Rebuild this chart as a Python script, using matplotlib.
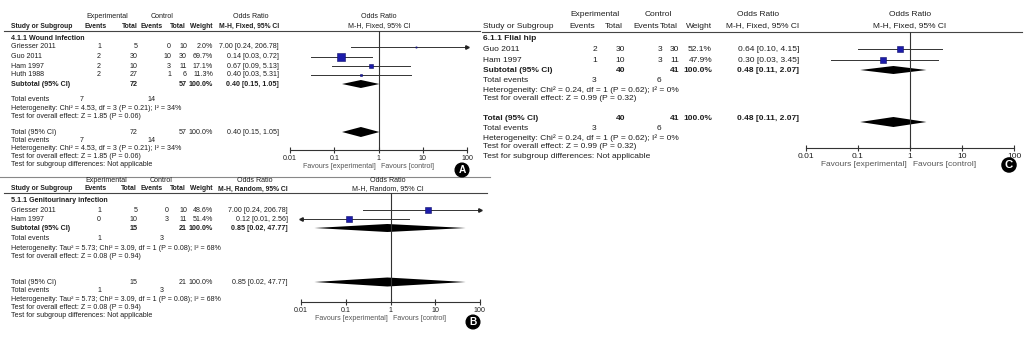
import numpy as np
import matplotlib
matplotlib.use("Agg")
import matplotlib.pyplot as plt

plt.rcParams['font.family'] = ['Liberation Sans', 'DejaVu Sans']

W, H = 1026, 339
TXT = '#1e1e1e'
GREY = '#555555'
BLUE = '#1c1caa'

# ---- A: wound infection (M-H, fixed)
a_studies = ["Griesser 2011", "Guo 2011", "Ham 1997", "Huth 1988"]
a_ev_e = [1, 2, 2, 2]
a_tot_e = [5, 30, 10, 27]
a_ev_c = [0, 10, 3, 1]
a_tot_c = [10, 30, 11, 6]
a_weight = [2.0, 69.7, 17.1, 11.3]
a_or = [7.00, 0.14, 0.67, 0.40]
a_lo = [0.24, 0.03, 0.09, 0.03]
a_hi = [206.78, 0.72, 5.13, 5.31]
a_pooled = [0.40, 0.15, 1.05]
a_totals = [72, 57]
a_events = [7, 14]
a_het = ["Heterogeneity: Chi\u00b2 = 4.53, df = 3 (P = 0.21); I\u00b2 = 34%",
         "Test for overall effect: Z = 1.85 (P = 0.06)"]

# ---- B: genitourinary infection (M-H, random)
b_studies = ["Griesser 2011", "Ham 1997"]
b_ev_e = [1, 0]
b_tot_e = [5, 10]
b_ev_c = [0, 3]
b_tot_c = [10, 11]
b_weight = [48.6, 51.4]
b_or = [7.00, 0.12]
b_lo = [0.24, 0.01]
b_hi = [206.78, 2.56]
b_pooled = [0.85, 0.02, 47.77]
b_totals = [15, 21]
b_events = [1, 3]
b_het = ["Heterogeneity: Tau\u00b2 = 5.73; Chi\u00b2 = 3.09, df = 1 (P = 0.08); I\u00b2 = 68%",
         "Test for overall effect: Z = 0.08 (P = 0.94)"]

# ---- C: flial hip (M-H, fixed)
c_studies = ["Guo 2011", "Ham 1997"]
c_ev_e = [2, 1]
c_tot_e = [30, 10]
c_ev_c = [3, 3]
c_tot_c = [30, 11]
c_weight = [52.1, 47.9]
c_or = [0.64, 0.30]
c_lo = [0.10, 0.03]
c_hi = [4.15, 3.45]
c_pooled = [0.48, 0.11, 2.07]
c_totals = [40, 41]
c_events = [3, 6]
c_het = ["Heterogeneity: Chi\u00b2 = 0.24, df = 1 (P = 0.62); I\u00b2 = 0%",
         "Test for overall effect: Z = 0.99 (P = 0.32)"]

ticks = [0.01, 0.1, 1, 10, 100]
tick_labels = ["0.01", "0.1", "1", "10", "100"]

fig = plt.figure(figsize=(W / 100, H / 100), dpi=100)
bg = fig.add_axes([0, 0, 1, 1])
bg.set_xlim(0, W)
bg.set_ylim(H, 0)
bg.axis('off')


def put(x, y, s, ha='left', fs=5.1, bold=False, color=TXT):
    bg.text(x, y, s, ha=ha, va='center', fontsize=fs,
            fontweight='bold' if bold else 'normal', color=color)


def ci_str(o, l, h):
    return f"{o:.2f} [{l:.2f}, {h:.2f}]"


def diamond(ax, est, lo, hi, y, hh):
    ax.fill([lo, est, hi, est], [y, y - hh, y, y + hh], color='black', lw=0)


def panel(L, studies, ev_e, tot_e, ev_c, tot_c, weight, ors, los, his,
          pooled, totals, events, het, group, method, letter):
    fs = L['fs']
    hfs = L['hfs']
    hc, dc = L['hcols'], L['dcols']
    put(L['exp_x'], L['h1'], "Experimental", 'center', fs)
    put(L['ctl_x'], L['h1'], "Control", 'center', fs)
    put(L['or_x'], L['h1'], "Odds Ratio", 'center', fs)
    put(L['fh_x'], L['h1'], "Odds Ratio", 'center', fs)
    put(L['study_x'], L['h2'], "Study or Subgroup", fs=hfs, bold=L['hbold'])
    for key, s in zip(['ev_e', 'tot_e', 'ev_c', 'tot_c', 'w'],
                      ["Events", "Total", "Events", "Total", "Weight"]):
        put(hc[key], L['h2'], s, 'right', hfs, L['hbold'])
    put(hc['ci'], L['h2'], method, 'right', hfs, L['hbold'])
    put(L['fh_x'], L['h2'], method, 'center', fs)
    bg.plot([L['x0'], L['x1']], [L['line'], L['line']], color='#444444', lw=0.8)

    put(L['study_x'], L['group'], group, fs=fs, bold=True)
    for i, y in enumerate(L['rows']):
        put(L['study_x'], y, studies[i], fs=fs)
        put(dc['ev_e'], y, str(ev_e[i]), 'right', fs)
        put(dc['tot_e'], y, str(tot_e[i]), 'right', fs)
        put(dc['ev_c'], y, str(ev_c[i]), 'right', fs)
        put(dc['tot_c'], y, str(tot_c[i]), 'right', fs)
        put(dc['w'], y, f"{weight[i]:.1f}%", 'right', fs)
        put(dc['ci'], y, ci_str(ors[i], los[i], his[i]), 'right', fs)

    def total_row(y, label, bold):
        put(L['study_x'], y, label, fs=fs, bold=bold)
        put(dc['tot_e'], y, str(totals[0]), 'right', fs, bold)
        put(dc['tot_c'], y, str(totals[1]), 'right', fs, bold)
        put(dc['w'], y, "100.0%", 'right', fs, bold)
        put(dc['ci'], y, ci_str(*pooled), 'right', fs, bold)

    def events_row(y):
        put(L['study_x'], y, "Total events", fs=fs)
        put(L['tev_x'][0], y, str(events[0]), 'right', fs)
        put(L['tev_x'][1], y, str(events[1]), 'right', fs)

    total_row(L['sub'], "Subtotal (95% CI)", True)
    events_row(L['tev'])
    for y, s in zip(L['het'], het):
        put(L['study_x'], y, s, fs=fs)
    total_row(L['tot'], "Total (95% CI)", L['tbold'])
    events_row(L['tev2'])
    for y, s in zip(L['het2'], het + ["Test for subgroup differences: Not applicable"]):
        put(L['study_x'], y, s, fs=fs)

    # forest plot on its own log axis
    fx0, fx1 = L['fx']
    ytop, ybot = L['line'], L['axis_y']
    ax = fig.add_axes([fx0 / W, 1 - ybot / H, (fx1 - fx0) / W, (ybot - ytop) / H])
    ax.set_xscale('log')
    ax.set_xlim(0.01, 100)
    ax.set_ylim(ybot, ytop)
    ax.patch.set_alpha(0)
    for s in ['top', 'left', 'right']:
        ax.spines[s].set_visible(False)
    ax.spines['bottom'].set_color('#333333')
    ax.spines['bottom'].set_linewidth(0.8)
    ax.set_yticks([])
    ax.set_xticks(ticks)
    ax.set_xticklabels(tick_labels)
    ax.minorticks_off()
    ax.tick_params(axis='x', direction='inout', length=5, width=0.8, colors='#333333',
                   labelsize=fs, pad=1, labelcolor=TXT)
    ax.axvline(1, color='#333333', lw=0.8)

    xmin, xmax = ax.get_xlim()
    wmax = max(weight)
    for i, y in enumerate(L['rows']):
        lo, hi = np.clip([los[i], his[i]], xmin, xmax)
        ax.plot([lo, hi], [y, y], color='#333333', lw=0.7, clip_on=False)
        if his[i] > xmax:
            ax.plot([xmax], [y], marker='>', ms=2.5, color='#222222', clip_on=False)
        if los[i] <= xmin:
            ax.plot([xmin], [y], marker='<', ms=2.5, color='#222222', clip_on=False)
        ms = L['ms'] * np.sqrt(weight[i] / wmax)
        ax.plot([ors[i]], [y], marker='s', ms=ms, mfc=BLUE, mec='#10106a',
                mew=0.4, clip_on=False)
    diamond(ax, *pooled, L['sub'], L['dh'][0])
    diamond(ax, *pooled, L['dtot'], L['dh'][1])

    put(L['fav_x'][0], L['fav_y'], "Favours [experimental]", 'right', fs, color=GREY)
    put(L['fav_x'][1], L['fav_y'], "Favours [control]", 'left', fs, color=GREY)
    bg.text(L['lab'][0], L['lab'][1], letter, ha='center', va='center', color='white',
            fontsize=fs + 2.2, fontweight='bold',
            bbox=dict(boxstyle='circle,pad=0.18', fc='black', ec='black'))


LA = dict(fs=5.1, hfs=4.9, x0=4, x1=480, study_x=11, h1=16, h2=26, line=31, group=38.5,
          exp_x=107, ctl_x=162, or_x=251, fh_x=379, hbold=True, tbold=False,
          hcols=dict(ev_e=107, tot_e=138, ev_c=163, tot_c=186, w=213, ci=279),
          dcols=dict(ev_e=101, tot_e=138, ev_c=171, tot_c=187, w=213, ci=279),
          rows=[47, 56.5, 66, 75], sub=84, tev=99.5, het=[108, 116],
          tot=132, dtot=132, tev2=140, het2=[148, 156, 164], tev_x=[84, 155],
          fx=(290, 467), axis_y=150, fav_y=166, fav_x=(376, 381), lab=(462, 170),
          ms=5.2, dh=(4, 5))

LB = dict(fs=5.1, hfs=4.9, x0=4, x1=487, study_x=11, h1=180, h2=189, line=193, group=200,
          exp_x=106, ctl_x=161, or_x=255, fh_x=388, hbold=True, tbold=False,
          hcols=dict(ev_e=107, tot_e=137, ev_c=163, tot_c=186, w=213, ci=288),
          dcols=dict(ev_e=101, tot_e=138, ev_c=169, tot_c=187, w=213, ci=288),
          rows=[210.5, 219.5], sub=228, tev=239, het=[248, 257],
          tot=282, dtot=282, tev2=291, het2=[299.5, 307.5, 315.5], tev_x=[101, 164],
          fx=(301, 480), axis_y=302, fav_y=318, fav_x=(388, 393), lab=(473, 322),
          ms=4.6, dh=(4, 4.5))

LC = dict(fs=6.0, hfs=6.0, x0=482, x1=1022, study_x=483, h1=15, h2=26, line=32, group=38.5,
          exp_x=595, ctl_x=658, or_x=758, fh_x=910, hbold=False, tbold=True,
          hcols=dict(ev_e=595, tot_e=623, ev_c=659, tot_c=678, w=712, ci=799),
          dcols=dict(ev_e=597, tot_e=625, ev_c=662, tot_c=679, w=712, ci=799),
          rows=[49.5, 60], sub=70, tev=81, het=[90, 99],
          tot=119, dtot=122, tev2=129, het2=[138, 147, 156], tev_x=[596, 661],
          fx=(806, 1014), axis_y=148, fav_y=165, fav_x=(907, 913), lab=(1009, 165),
          ms=4.8, dh=(4, 5))

panel(LA, a_studies, a_ev_e, a_tot_e, a_ev_c, a_tot_c, a_weight, a_or, a_lo, a_hi,
      a_pooled, a_totals, a_events, a_het, "4.1.1 Wound Infection",
      "M-H, Fixed, 95% CI", "A")
panel(LB, b_studies, b_ev_e, b_tot_e, b_ev_c, b_tot_c, b_weight, b_or, b_lo, b_hi,
      b_pooled, b_totals, b_events, b_het, "5.1.1 Genitourinary infection",
      "M-H, Random, 95% CI", "B")
panel(LC, c_studies, c_ev_e, c_tot_e, c_ev_c, c_tot_c, c_weight, c_or, c_lo, c_hi,
      c_pooled, c_totals, c_events, c_het, "6.1.1 Flial hip",
      "M-H, Fixed, 95% CI", "C")

# separator between panel A and panel B
bg.plot([0, 490], [177, 177], color='#888888', lw=0.8)

fig.savefig("out.png", dpi=100)
